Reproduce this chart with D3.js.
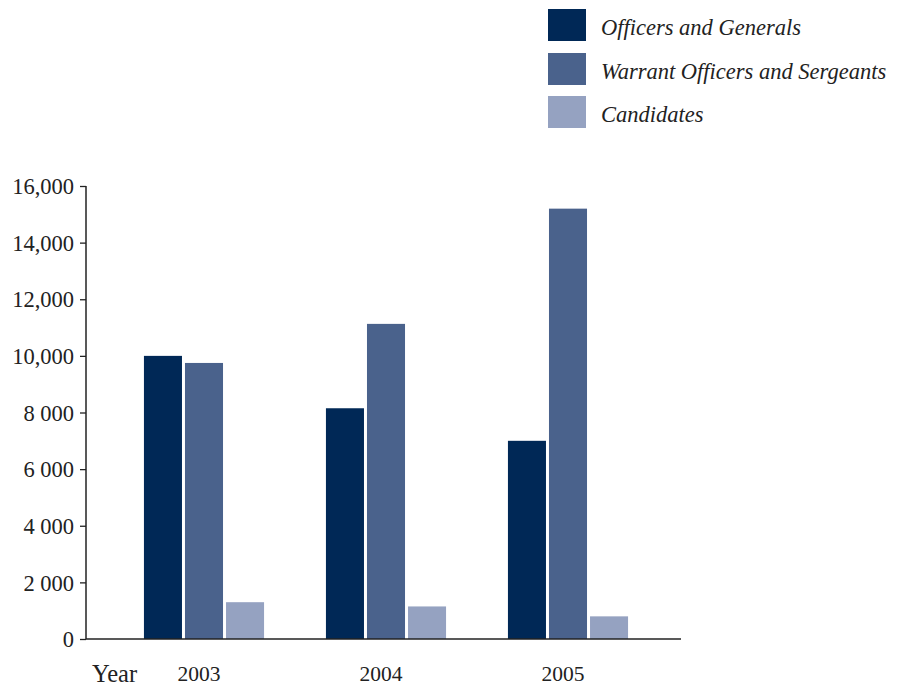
<!DOCTYPE html>
<html><head><meta charset="utf-8">
<script src="https://cdn.jsdelivr.net/npm/d3@7"></script>
<style>
html,body{margin:0;padding:0;background:#fff;}
svg{display:block;}
</style></head>
<body>
<script>
const years = ["2003", "2004", "2005"];
const seriesNames = ["Officers and Generals", "Warrant Officers and Sergeants", "Candidates"];
const officers = [10000, 8150, 7000];
const warrant = [9750, 11130, 15200];
const candidates = [1300, 1150, 800];
const seriesValues = [officers, warrant, candidates];
const colors = ["#002856", "#4a628c", "#95a2c1"];
const yTicks = [0, 2000, 4000, 6000, 8000, 10000, 12000, 14000, 16000];
const yTickLabels = ["0", "2 000", "4 000", "6 000", "8 000", "10,000", "12,000", "14,000", "16,000"];
const xAxisTitle = "Year";

const W = 897, H = 686;
const svg = d3.select("body").append("svg").attr("width", W).attr("height", H);

const axisX0 = 86, axisX1 = 681;
const y = d3.scaleLinear().domain([0, 16000]).range([639, 186]);
const x0 = d3.scaleBand().domain(years).range([113, 659]).paddingInner(0.34).paddingOuter(0.17);
const x1 = d3.scaleBand().domain(d3.range(seriesNames.length)).range([0, x0.bandwidth()]).paddingInner(3/41).paddingOuter(0);

const textColor = "#222";
const serif = "'Liberation Serif', 'Times New Roman', serif";

// bars
years.forEach((yr, i) => {
  const g = svg.append("g").attr("transform", `translate(${x0(yr)},0)`);
  g.selectAll("rect").data(seriesValues.map((s, k) => ({k, v: s[i]}))).join("rect")
    .attr("x", d => x1(d.k))
    .attr("width", x1.bandwidth())
    .attr("y", d => y(d.v))
    .attr("height", d => y(0) - y(d.v))
    .attr("fill", d => colors[d.k]);
});

// y axis
const yAxis = d3.axisLeft(y).tickValues(yTicks).tickSize(6).tickPadding(6)
  .tickFormat((d, i) => yTickLabels[i]);
const ya = svg.append("g").attr("transform", `translate(${axisX0},0)`).call(yAxis);
ya.select(".domain").remove();
ya.selectAll(".tick line").attr("stroke", "#222").attr("stroke-width", 1.3);
ya.selectAll(".tick text").attr("font-family", serif).attr("font-size", 22.5).attr("fill", textColor)
  .attr("dy", "0.34em");
svg.append("line").attr("x1", axisX0).attr("x2", axisX0).attr("y1", y(16000)).attr("y2", y(0))
  .attr("stroke", "#222").attr("stroke-width", 1.5);
svg.append("line").attr("x1", axisX0).attr("x2", axisX1).attr("y1", y(0)).attr("y2", y(0))
  .attr("stroke", "#222").attr("stroke-width", 1.5);

// x labels
const xAxis = d3.axisBottom(x0).tickSize(0).tickPadding(0);
const xa = svg.append("g").attr("transform", `translate(-5,${y(0)})`).call(xAxis);
xa.select(".domain").remove();
xa.selectAll(".tick text").attr("font-family", serif).attr("font-size", 21.5).attr("fill", textColor)
  .attr("y", 42).attr("dy", 0);
svg.append("text").attr("x", 92).attr("y", 682).attr("font-family", serif).attr("font-size", 24.5)
  .attr("fill", textColor).text(xAxisTitle);

// legend
const legendY = [9, 53, 96];
const lg = svg.append("g");
seriesNames.forEach((name, k) => {
  lg.append("rect").attr("x", 548).attr("y", legendY[k]).attr("width", 38).attr("height", 32).attr("fill", colors[k]);
  lg.append("text").attr("x", 601).attr("y", legendY[k] + 26)
    .attr("font-family", serif).attr("font-style", "italic").attr("font-size", 22.5)
    .attr("fill", textColor).text(name);
});
</script>
</body></html>
